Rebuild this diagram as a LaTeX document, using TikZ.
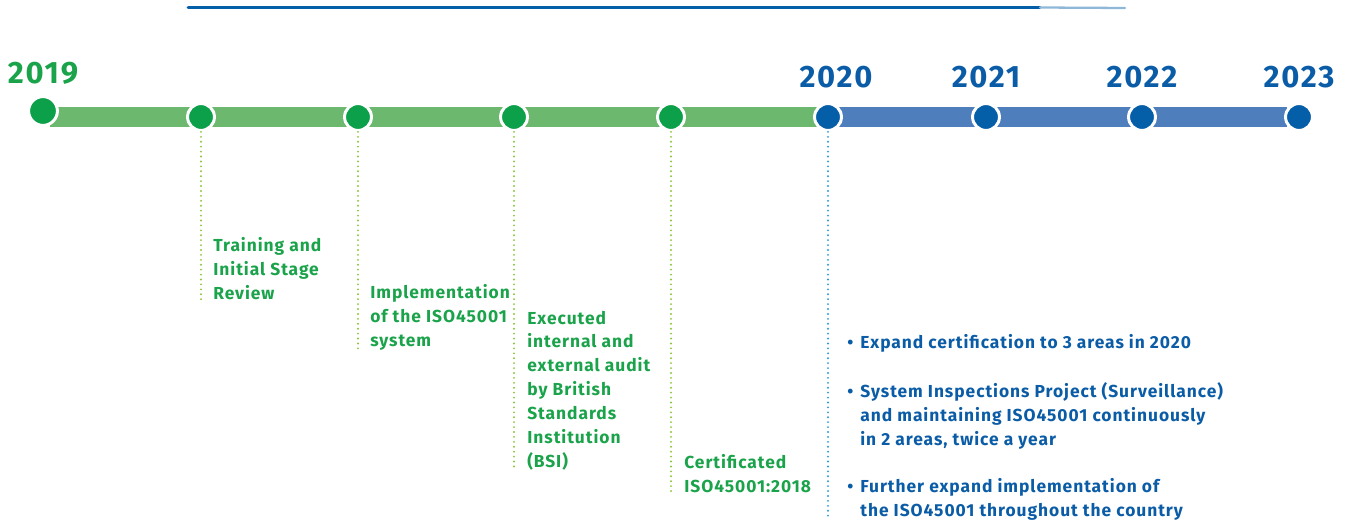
\documentclass[tikz,border=0pt]{standalone}
\usepackage{fontspec}
\setmainfont{Fira Sans}
\newfontfamily\notefont[LetterSpace=5.5]{Fira Sans}
\usetikzlibrary{positioning}

\definecolor{dotgreen}{HTML}{0DA04A}
\definecolor{bargreen}{HTML}{6CB86F}
\definecolor{txtgreen}{HTML}{1AA34A}
\definecolor{linegreen}{HTML}{8CC63F}
\definecolor{dotblue}{HTML}{055EA8}
\definecolor{barblue}{HTML}{4E7EBB}
\definecolor{txtblue}{HTML}{0B5CA6}
\definecolor{lineblue}{HTML}{2A9BD8}

\tikzset{
  milestone/.style={circle, draw=white, line width=1.7pt, minimum size=15.3pt, inner sep=0pt},
  bar/.style={line width=11.9pt},
  year/.style={font=\notefont\bfseries\fontsize{17.6}{20}\selectfont},
  note/.style={anchor=north west, inner sep=0pt, align=left, font=\notefont\bfseries\fontsize{9.9}{13.6}\selectfont},
  leader/.style={line width=1.2pt, line cap=round, dash pattern=on 0pt off 2.8pt}
}

\begin{document}
\begin{tikzpicture}[x=0.02cm, y=-0.02cm]
    \useasboundingbox (0,0) rectangle (1350,520);

    % Brush stroke on top
    \draw[dotblue, line width=1.7pt, line cap=round] (188,7.5) -- (1040,7.5);
    \draw[dotblue!45, line width=1.3pt, line cap=round] (1040,7.5) -- (1125,8);

    % Timeline bars
    \coordinate (b0) at (50, 117);
    \coordinate (b5) at (828, 117);
    \coordinate (b8) at (1287, 117);
    \draw[bar, bargreen] (b0) -- (b5);
    \draw[bar, barblue] (b5) -- (b8);

    % Milestones
    \node[milestone, fill=dotgreen, minimum size=16.4pt] (d0) at (43, 111) {};
    \node[milestone, fill=dotgreen] (d1) at (201, 117) {};
    \node[milestone, fill=dotgreen] (d2) at (358, 117) {};
    \node[milestone, fill=dotgreen] (d3) at (514, 117) {};
    \node[milestone, fill=dotgreen] (d4) at (671, 117) {};
    \node[milestone, fill=dotblue] (d5) at (b5) {};
    \node[milestone, fill=dotblue] (d6) at (986, 117) {};
    \node[milestone, fill=dotblue] (d7) at (1142, 117) {};
    \node[milestone, fill=dotblue] (d8) at (1299, 117) {};

    % Years
    \node[year, text=txtgreen] (y2019) at (43, 73) {2019};
    \node[year, text=txtblue] (y2020) at (836, 77) {2020};
    \foreach \i/\y in {6/2021, 7/2022, 8/2023} {
        \node[year, text=txtblue] (y\y) at (d\i |- 0,77) {\y};
    }

    % Notes
    \node[note, text=txtgreen] (n1) at (213, 237.5) {Training and\\Initial Stage\\Review};
    \node[note, text=txtgreen] (n2) at (370, 284.5) {Implementation\\of the ISO45001\\system};
    \node[note, text=txtgreen] (n3) at (527, 310.5) {Executed\\internal and\\external audit\\by British\\Standards\\Institution\\(BSI)};
    \node[note, text=txtgreen] (n4) at (684, 454.5) {Certificated\\ISO45001:2018};
    \node[note, text=txtblue] (b1) at (860, 334.5) {\llap{•\hspace{4pt}}Expand certification to 3 areas in 2020};
    \node[note, text=txtblue] (b2) at (860, 382.5) {\llap{•\hspace{4pt}}System Inspections Project (Surveillance)\\and maintaining ISO45001 continuously\\in 2 areas, twice a year};
    \node[note, text=txtblue] (b3) at (860, 478.5) {\llap{•\hspace{4pt}}Further expand implementation of\\the ISO45001 throughout the country};
    \coordinate (end) at (828, 520);

    % Leader lines
    \foreach \i in {1,...,4} {
        \draw[leader, linegreen] (d\i.south) -- (d\i |- n\i.south);
    }
    \draw[leader, lineblue] (d5.south) -- (end);
\end{tikzpicture}
\end{document}
